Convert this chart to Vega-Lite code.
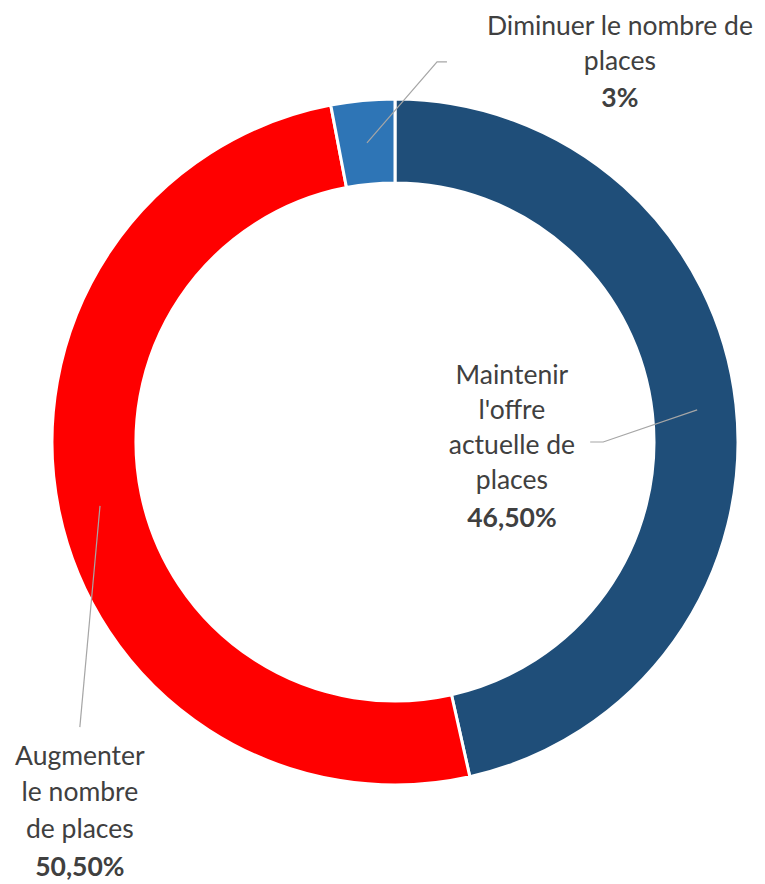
{
  "$schema": "https://vega.github.io/schema/vega-lite/v6.json",
  "autosize": {"type": "none"},
  "width": 752,
  "height": 884,
  "padding": {"left": 19, "top": 0, "right": 0, "bottom": 0},
  "background": "white",
  "config": {"view": {"stroke": null}},
  "datasets": {
    "slices": [
      {"categorie": "Maintenir l'offre actuelle de places", "part": 46.5, "ordre": 1},
      {"categorie": "Augmenter le nombre de places", "part": 50.5, "ordre": 2},
      {"categorie": "Diminuer le nombre de places", "part": 3, "ordre": 3}
    ],
    "labels": [
      {"txt": "Diminuer le nombre de", "u": 65.8, "v": 121.4, "kind": "name"},
      {"txt": "places", "u": 65.8, "v": 111.2, "kind": "name"},
      {"txt": "3%", "u": 65.8, "v": 100.4, "kind": "pct"},
      {"txt": "Maintenir", "u": 34.2, "v": 19.3, "kind": "name"},
      {"txt": "l'offre", "u": 34.2, "v": 9.1, "kind": "name"},
      {"txt": "actuelle de", "u": 34.2, "v": -1.2, "kind": "name"},
      {"txt": "places", "u": 34.2, "v": -11.4, "kind": "name"},
      {"txt": "46,50%", "u": 34.2, "v": -22.5, "kind": "pct"},
      {"txt": "Augmenter", "u": -92.2, "v": -92.2, "kind": "name"},
      {"txt": "le nombre", "u": -92.2, "v": -102.7, "kind": "name"},
      {"txt": "de places", "u": -92.2, "v": -113.5, "kind": "name"},
      {"txt": "50,50%", "u": -92.2, "v": -124.6, "kind": "pct"}
    ],
    "leaders": [
      {"seg": "Diminuer", "pt": 1, "u": -8.2, "v": 87.5},
      {"seg": "Diminuer", "pt": 2, "u": 12.3, "v": 111.2},
      {"seg": "Diminuer", "pt": 3, "u": 15.2, "v": 111.2},
      {"seg": "Maintenir", "pt": 1, "u": 88.4, "v": 9.4},
      {"seg": "Maintenir", "pt": 2, "u": 60.9, "v": 0},
      {"seg": "Maintenir", "pt": 3, "u": 57.1, "v": 0},
      {"seg": "Augmenter", "pt": 1, "u": -86.3, "v": -18.7},
      {"seg": "Augmenter", "pt": 2, "u": -92.2, "v": -83.4}
    ]
  },
  "layer": [
    {
      "data": {"name": "slices"},
      "mark": {"type": "arc", "radius": 343, "innerRadius": 259, "stroke": "white", "strokeWidth": 3},
      "encoding": {
        "theta": {"field": "part", "type": "quantitative", "stack": true},
        "order": {"field": "ordre", "type": "quantitative"},
        "color": {
          "field": "categorie", "type": "nominal", "legend": null,
          "scale": {
            "domain": ["Maintenir l'offre actuelle de places", "Augmenter le nombre de places", "Diminuer le nombre de places"],
            "range": ["#1F4E79", "#FF0000", "#2E75B6"]
          }
        }
      }
    },
    {
      "data": {"name": "leaders"},
      "mark": {"type": "line", "color": "#A6A6A6", "strokeWidth": 1.2},
      "encoding": {
        "x": {"field": "u", "type": "quantitative", "scale": {"domain": [-110, 110]}, "axis": null},
        "y": {"field": "v", "type": "quantitative", "scale": {"domain": [-129.31, 129.31]}, "axis": null},
        "detail": {"field": "seg"},
        "order": {"field": "pt", "type": "quantitative"}
      }
    },
    {
      "data": {"name": "labels"},
      "transform": [{"filter": "datum.kind === 'name'"}],
      "mark": {"type": "text", "font": "Lato", "fontSize": 26.5, "color": "#404040", "align": "center", "baseline": "middle"},
      "encoding": {
        "x": {"field": "u", "type": "quantitative", "scale": {"domain": [-110, 110]}, "axis": null},
        "y": {"field": "v", "type": "quantitative", "scale": {"domain": [-129.31, 129.31]}, "axis": null},
        "text": {"field": "txt"}
      }
    },
    {
      "data": {"name": "labels"},
      "transform": [{"filter": "datum.kind === 'pct'"}],
      "mark": {"type": "text", "font": "Lato", "fontSize": 26.5, "fontWeight": "bold", "color": "#404040", "align": "center", "baseline": "middle"},
      "encoding": {
        "x": {"field": "u", "type": "quantitative", "scale": {"domain": [-110, 110]}, "axis": null},
        "y": {"field": "v", "type": "quantitative", "scale": {"domain": [-129.31, 129.31]}, "axis": null},
        "text": {"field": "txt"}
      }
    }
  ]
}
